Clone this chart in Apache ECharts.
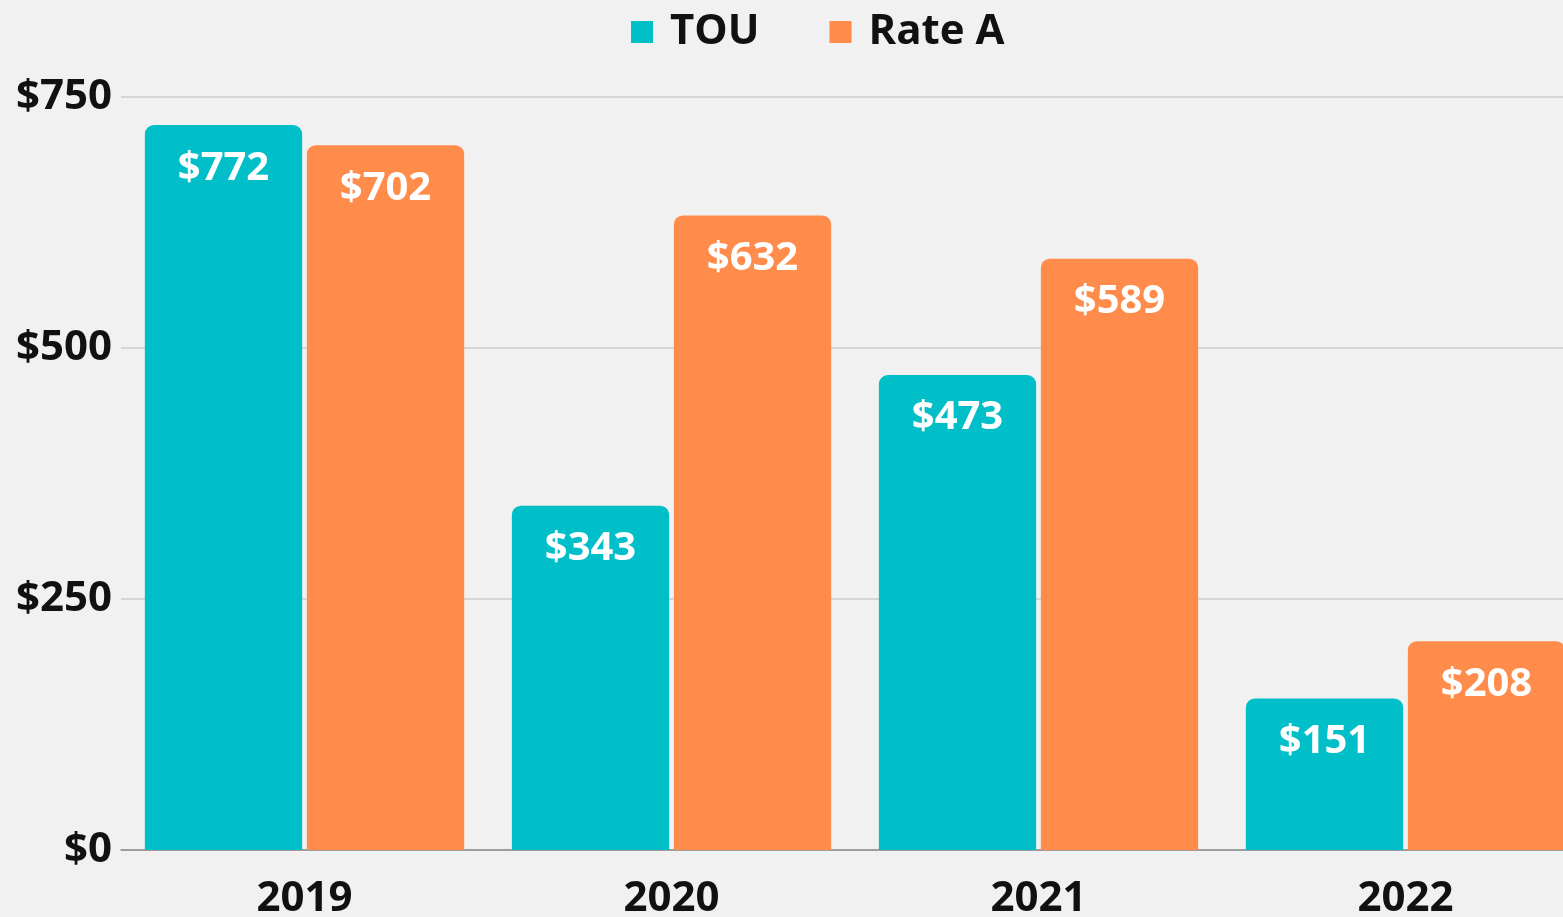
<!DOCTYPE html>
<html>
<head>
<meta charset="utf-8">
<script src="https://cdn.jsdelivr.net/npm/echarts@6/dist/echarts.min.js"></script>
<style>
html,body{margin:0;padding:0;background:#f1f1f1;}
#chart{width:1563px;height:917px;}
</style>
</head>
<body>
<div id="chart"></div>
<script>
var years = ['2019','2020','2021','2022'];
var touValues = [722, 343, 473, 151];
var rateAValues = [702, 632, 589, 208];
// labels as printed on the bars
var touLabels = ['$772','$343','$473','$151'];
var rateALabels = ['$702','$632','$589','$208'];
var yTicks = [0, 250, 500, 750];

var myChart = echarts.init(document.getElementById('chart'));

var font = '"Open Sans", sans-serif';

function barLabel(texts){
	return {
		show:true,
		position:'insideTop',
		distance:23,
		color:'#ffffff',
		fontFamily:font,
		fontWeight:'bold',
		fontSize:40,
		formatter:function(p){ return texts[p.dataIndex]; }
	};
}

var option = {
	backgroundColor:'#f1f1f1',
	legend:{
		top:6,
		left:626,
		itemWidth:22,
		itemHeight:22,
		itemGap:70,
		icon:'rect',
		textStyle:{
			fontFamily:font,
			fontWeight:'bold',
			fontSize:42,
			color:'#111111',
			padding:[0,0,0,12]
		},
		data:['TOU','Rate A']
	},
	grid:{
		left:121,
		width:1468,
		top:97,
		bottom:67,
		containLabel:false,
		outerBoundsMode:'none'
	},
	xAxis:{
		type:'category',
		data:years,
		axisTick:{show:false},
		axisLine:{lineStyle:{color:'#8a8a8a',width:1.5}},
		axisLabel:{
			margin:28,
			fontFamily:font,
			fontWeight:'bold',
			fontSize:42,
			color:'#111111'
		}
	},
	yAxis:{
		type:'value',
		min:yTicks[0],
		max:yTicks[yTicks.length-1],
		interval:250,
		axisLine:{show:false},
		axisTick:{show:false},
		splitLine:{lineStyle:{color:'#cccccc',width:1.5}},
		axisLabel:{
			margin:9,
			fontFamily:font,
			fontWeight:'bold',
			fontSize:42,
			color:'#111111',
			formatter:'${value}'
		}
	},
	series:[
		{
			name:'TOU',
			type:'bar',
			data:touValues,
			barGap:'3%',
			barCategoryGap:'13%',
			itemStyle:{color:'#00bfc8',borderRadius:[9,9,0,0]},
			label:barLabel(touLabels)
		},
		{
			name:'Rate A',
			type:'bar',
			data:rateAValues,
			itemStyle:{color:'#ff8c4a',borderRadius:[9,9,0,0]},
			label:barLabel(rateALabels)
		}
	]
};
myChart.setOption(option);
</script>
</body>
</html>
